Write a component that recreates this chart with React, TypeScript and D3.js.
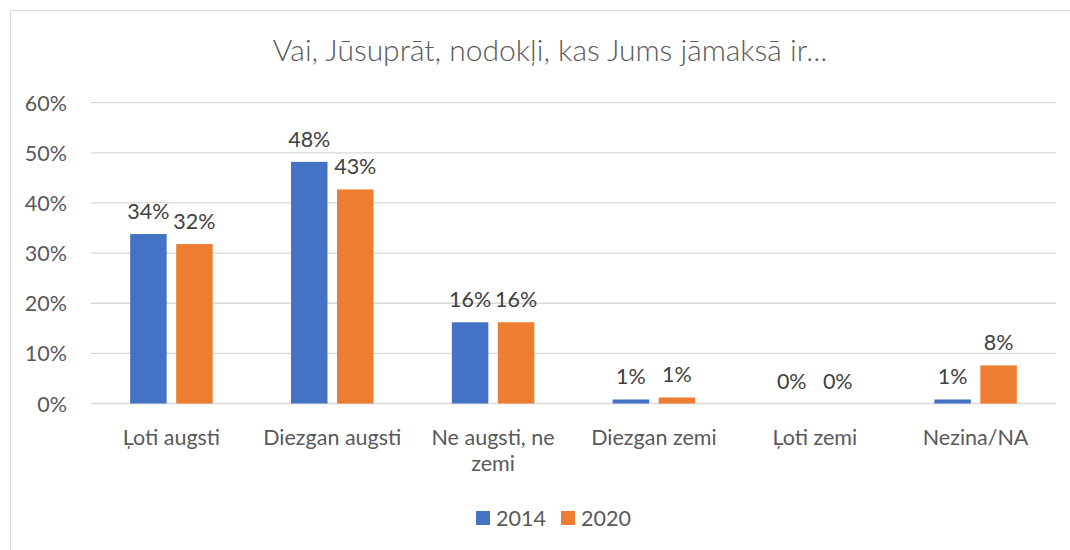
import React from "react";
import * as d3 from "d3";

const categories = ["Ļoti augsti", "Diezgan augsti", "Ne augsti, ne zemi", "Diezgan zemi", "Ļoti zemi", "Nezina/NA"];
const categoryLines = [["Ļoti augsti"], ["Diezgan augsti"], ["Ne augsti, ne", "zemi"], ["Diezgan zemi"], ["Ļoti zemi"], ["Nezina/NA"]];
const series = ["2014", "2020"];
const values2014 = [33.8, 48.2, 16.2, 0.8, 0.0, 0.8];
const values2020 = [31.8, 42.7, 16.2, 1.2, 0.0, 7.6];
const labels2014 = ["34%", "48%", "16%", "1%", "0%", "1%"];
const labels2020 = ["32%", "43%", "16%", "1%", "0%", "8%"];
const yTicks = [0, 10, 20, 30, 40, 50, 60];
const colors = ["#4472C4", "#ED7D31"];

export default function App() {
  const W = 1070, H = 550;
  const left = 91, right = 1056, top = 102.7, bottom = 403.5;
  const x = d3.scaleBand<string>().domain(categories).range([left, right]);
  const y = d3.scaleLinear().domain([0, 60]).range([bottom, top]);
  const barW = 36.5, gap = 9.5;
  const font = "Lato, 'Open Sans', 'Liberation Sans', sans-serif";
  const fs = 21.5;
  const data = [values2014, values2020];
  const labs = [labels2014, labels2020];
  return (
    <svg width={W} height={H} style={{ position: "absolute", left: 0, top: 0, fontFamily: font }}>
      <rect x={0} y={0} width={W} height={H} fill="#fff" />
      <rect x={10.5} y={10.5} width={W + 20} height={H + 20} fill="none" stroke="#d9d9d9" strokeWidth={1} />
      <text x={550} y={61} textAnchor="middle" fontSize={30} fill="#595959" fontWeight={300}>
        Vai, Jūsuprāt, nodokļi, kas Jums jāmaksā ir...
      </text>
      {yTicks.map((t) => (
        <g key={t}>
          <line x1={left} x2={right} y1={y(t)} y2={y(t)} stroke="#d9d9d9" strokeWidth={1.3} />
          <text x={67} y={y(t) + 8} textAnchor="end" fontSize={fs} fill="#595959">{t}%</text>
        </g>
      ))}
      {categories.map((c, i) => {
        const cx = x(c)! + x.bandwidth() / 2;
        return (
          <g key={c}>
            {data.map((vals, s) => {
              const bx = s === 0 ? cx - gap / 2 - barW : cx + gap / 2;
              const v = vals[i];
              return (
                <g key={s}>
                  {v > 0 && <rect x={bx} y={y(v)} width={barW} height={bottom - y(v)} fill={colors[s]} />}
                  <text x={bx + barW / 2} y={y(v) - 15} textAnchor="middle" fontSize={fs} fill="#404040">{labs[s][i]}</text>
                </g>
              );
            })}
            {categoryLines[i].map((ln, k) => (
              <text key={k} x={cx} y={445 + k * 26} textAnchor="middle" fontSize={fs} fill="#595959">{ln}</text>
            ))}
          </g>
        );
      })}
      {series.map((s, i) => (
        <g key={s}>
          <rect x={476 + i * 85} y={511} width={14} height={14} fill={colors[i]} />
          <text x={496 + i * 85} y={526} fontSize={fs} fill="#595959">{s}</text>
        </g>
      ))}
    </svg>
  );
}
